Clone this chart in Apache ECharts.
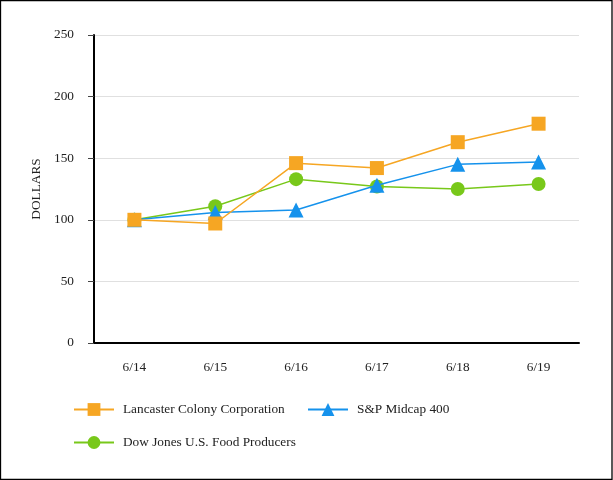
<!DOCTYPE html>
<html>
<head>
<meta charset="utf-8">
<script src="https://cdn.jsdelivr.net/npm/echarts@6/dist/echarts.min.js"></script>
<style>
html,body{margin:0;padding:0;background:#fff;}
#chart{width:613px;height:480px;}
</style>
</head>
<body>
<div id="chart"></div>
<script>
const categories = ['6/14','6/15','6/16','6/17','6/18','6/19'];
const lancaster = [100, 97, 146, 142, 163, 178];
const spMidcap = [100, 106, 108, 128, 145, 147];
const dowJones = [100, 111, 133, 127, 125, 129];
const yTicks = [0, 50, 100, 150, 200, 250];

const FONT = '"Liberation Serif", "Times New Roman", serif';
const ORANGE = '#F6A623';
const BLUE = '#1592EC';
const GREEN = '#78C81A';

const chart = echarts.init(document.getElementById('chart'), null, {renderer: 'canvas'});
const legendText = {fontFamily: FONT, fontSize: 13.3, color: '#222', padding: [0, 0, 0, 4]};
chart.setOption({
  animation: false,
  backgroundColor: '#fff',
  graphic: [{
    type: 'rect', shape: {x: 0.5, y: 0.5, width: 611.5, height: 479},
    style: {fill: 'none', stroke: '#000', lineWidth: 1.3}, z: 100
  }],
  grid: {left: 94, right: 34, top: 35, bottom: 137},
  xAxis: {
    type: 'category',
    data: categories,
    boundaryGap: true,
    axisLine: {lineStyle: {color: '#000', width: 2}},
    axisTick: {alignWithLabel: true, length: 6, lineStyle: {color: '#444', width: 1}},
    axisLabel: {fontFamily: FONT, fontSize: 13.3, color: '#222', margin: 18},
    splitLine: {show: false}
  },
  yAxis: {
    type: 'value',
    min: yTicks[0], max: yTicks[yTicks.length - 1], interval: 50,
    name: 'DOLLARS',
    nameLocation: 'middle',
    nameGap: 42,
    nameTextStyle: {fontFamily: FONT, fontSize: 13.3, color: '#222'},
    axisLine: {show: true, lineStyle: {color: '#000', width: 2}},
    axisTick: {show: true, length: 6, lineStyle: {color: '#444', width: 1}},
    axisLabel: {fontFamily: FONT, fontSize: 13.3, color: '#222', margin: 20},
    splitLine: {show: true, lineStyle: {color: '#e0e0e0', width: 1}}
  },
  legend: [
    {data: ['Lancaster Colony Corporation'], left: 68, top: 398, itemWidth: 40, itemHeight: 16, textStyle: legendText},
    {data: ['S&P Midcap 400'], left: 302, top: 398, itemWidth: 40, itemHeight: 16, textStyle: legendText},
    {data: ['Dow Jones U.S. Food Producers'], left: 68, top: 431, itemWidth: 40, itemHeight: 16, textStyle: legendText}
  ],
  series: [
    {
      name: 'Lancaster Colony Corporation', type: 'line', data: lancaster,
      symbol: 'rect', symbolSize: 14, color: ORANGE,
      lineStyle: {width: 1.5, color: ORANGE}, itemStyle: {color: ORANGE}, z: 5
    },
    {
      name: 'S&P Midcap 400', type: 'line', data: spMidcap,
      symbol: 'triangle', symbolSize: 15, color: BLUE,
      lineStyle: {width: 1.5, color: BLUE}, itemStyle: {color: BLUE}, z: 4
    },
    {
      name: 'Dow Jones U.S. Food Producers', type: 'line', data: dowJones,
      symbol: 'circle', symbolSize: 14, color: GREEN,
      lineStyle: {width: 1.5, color: GREEN}, itemStyle: {color: GREEN}, z: 3
    }
  ]
});
</script>
</body>
</html>
